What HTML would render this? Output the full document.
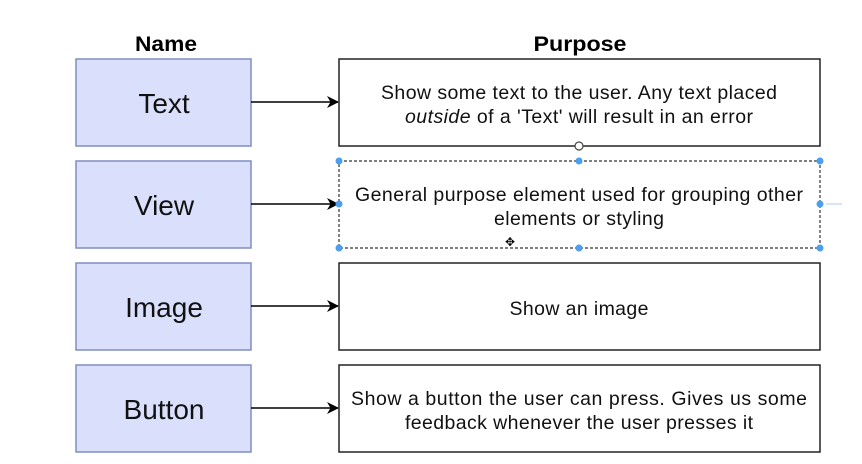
<!DOCTYPE html>
<html><head><style>
body{margin:0;background:#fff;}
svg{display:block;font-family:"Liberation Sans",Arial,sans-serif;}
</style></head><body>
<svg width="862" height="464" viewBox="0 0 862 464" xmlns="http://www.w3.org/2000/svg">
<defs>
<marker id="a" markerWidth="12" markerHeight="12" refX="11" refY="6" orient="auto" markerUnits="userSpaceOnUse">
<path d="M0,0 L12,6 L0,12 L3.5,6 Z" fill="#000"/></marker>
</defs>
<text x="166" y="51" font-size="21" font-weight="bold" text-anchor="middle" textLength="62" lengthAdjust="spacingAndGlyphs">Name</text>
<text x="580" y="51" font-size="21" font-weight="bold" text-anchor="middle" textLength="93" lengthAdjust="spacingAndGlyphs">Purpose</text>
<g fill="#dae0fb" stroke="#7f8dc4" stroke-width="1.5">
<rect x="76" y="59" width="175" height="87"/>
<rect x="76" y="161" width="175" height="87"/>
<rect x="76" y="263" width="175" height="87"/>
<rect x="76" y="365" width="175" height="87"/>
</g>
<g font-size="28" text-anchor="middle" fill="#111">
<text x="164" y="113">Text</text>
<text x="164" y="215">View</text>
<text x="164" y="317">Image</text>
<text x="164" y="419">Button</text>
</g>
<g stroke="#000" stroke-width="1.5">
<line x1="251" y1="102" x2="338" y2="102" marker-end="url(#a)"/>
<line x1="251" y1="204" x2="338" y2="204" marker-end="url(#a)"/>
<line x1="251" y1="306" x2="338" y2="306" marker-end="url(#a)"/>
<line x1="251" y1="408" x2="338" y2="408" marker-end="url(#a)"/>
</g>
<g fill="#fff" stroke="#222" stroke-width="1.5">
<rect x="339" y="59" width="481" height="87"/>
<rect x="339" y="263" width="481" height="87"/>
<rect x="339" y="365" width="481" height="87"/>
</g>
<rect x="339" y="161" width="481" height="87" fill="#fff" stroke="#333" stroke-width="1.2" stroke-dasharray="3,2"/>
<g fill="#4a9ff0">
<circle cx="339" cy="161" r="3.5"/><circle cx="579" cy="161" r="3.5"/><circle cx="820" cy="161" r="3.5"/>
<circle cx="339" cy="204" r="3.5"/><circle cx="820" cy="204" r="3.5"/>
<circle cx="339" cy="248" r="3.5"/><circle cx="579" cy="248" r="3.5"/><circle cx="820" cy="248" r="3.5"/>
</g>
<circle cx="579" cy="146" r="4" fill="#fff" stroke="#444" stroke-width="1.2"/>
<text x="510" y="246" font-size="12" text-anchor="middle">✥</text>
<line x1="826" y1="204" x2="842" y2="204" stroke="#d5e6fa" stroke-width="2"/>
<g font-size="19.5" text-anchor="middle" fill="#111" lengthAdjust="spacingAndGlyphs">
<text x="579" y="99" textLength="396">Show some text to the user. Any text placed</text>
<text x="579" y="123" textLength="348"><tspan font-style="italic">outside</tspan> of a 'Text' will result in an error</text>
<text x="579" y="201" textLength="448">General purpose element used for grouping other</text>
<text x="579" y="225" textLength="170">elements or styling</text>
<text x="579" y="315" textLength="139">Show an image</text>
<text x="579" y="405" textLength="456">Show a button the user can press.  Gives us some</text>
<text x="579" y="429" textLength="348">feedback whenever the user presses it</text>
</g>
</svg>
</body></html>
